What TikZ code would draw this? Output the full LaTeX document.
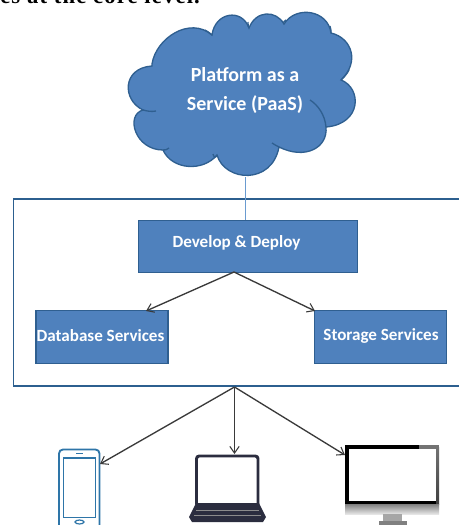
\documentclass[tikz,border=0pt]{standalone}
\usepackage{fontspec}
\setmainfont{Carlito}
\newfontfamily\serifcut[LetterSpace=5]{Liberation Serif}
\usetikzlibrary{arrows.meta}
\definecolor{blu}{HTML}{4F81BD}
\definecolor{edge}{HTML}{2F5F90}
\definecolor{frameblu}{HTML}{2C5F8F}
\definecolor{linkblu}{HTML}{6A9BD0}
\definecolor{arrowk}{HTML}{3A3A3A}
\definecolor{phoneblu}{HTML}{2E75A8}
\definecolor{lapdark}{HTML}{2B2D3F}
\tikzset{
 box/.style={draw=edge,fill=blu,line width=1pt,minimum height=39.4pt,inner sep=0pt},
 lbl/.style={text=white,font=\bfseries\fontsize{12.8}{15}\selectfont,inner sep=0pt},
 cloudlbl/.style={text=white,font=\bfseries\fontsize{15}{18}\selectfont,inner sep=0pt},
 flow/.style={draw=arrowk,line width=1pt,-{Straight Barb[length=5pt,width=7pt,line width=0.8pt]}},
 crease/.style={draw=edge,line width=1pt},
}
\begin{document}
\begin{tikzpicture}[x=0.75pt,y=-0.75pt]
\useasboundingbox (0,0) rectangle (459,525);
\begin{scope}
\clip (0,0) rectangle (459,525);
\node[anchor=base west,inner sep=0pt,font=\serifcut\bfseries\fontsize{17}{20}\selectfont] (cut) at (0,3) {es at the core level.};
\end{scope}
% cloud
\draw[draw=edge,fill=blu,line width=1pt]
 (152,64) .. controls (156,38) and (190,16) .. (212,35)
 .. controls (215,12) and (242,8) .. (249,28)
 .. controls (256,10) and (276,10) .. (284,24)
 .. controls (296,5) and (328,10) .. (331,33)
 .. controls (352,38) and (360,62) .. (341,80)
 .. controls (362,88) and (362,124) .. (326,127)
 .. controls (328,148) and (305,160) .. (279,147)
 .. controls (272,185) and (225,182) .. (217,155)
 .. controls (203,172) and (172,170) .. (163,150)
 .. controls (135,150) and (125,115) .. (143,110)
 .. controls (122,100) and (122,68) .. (152,66)
 -- cycle;
\draw[crease] (212,35) .. controls (210,33) and (208,32) .. (205,30);
\draw[crease] (249,28) .. controls (248,26) and (248,25) .. (248,22);
\draw[crease] (284,24) .. controls (283,23) and (283,22) .. (286,20);
\draw[crease] (331,33) .. controls (331,31) and (331,29) .. (330,26);
\draw[crease] (341,80) .. controls (344,77) and (347,74) .. (349,70);
\draw[crease] (310,100) .. controls (318,105) and (325,115) .. (326,127);
\draw[crease] (279,147) .. controls (277,146) and (275,145) .. (272,143);
\draw[crease] (217,155) .. controls (215,159) and (214,157) .. (213,154);
\draw[crease] (163,150) .. controls (165,150) and (167,150) .. (169,148);
\draw[crease] (143,110) .. controls (147,111) and (151,112) .. (156,111);
\node[cloudlbl] (cloudA) at (245,75) {Platform as a};
\node[cloudlbl] (cloudB) at (245,105) {Service (PaaS)};
\coordinate (cloudfoot) at (245.5,177);
% frame
\draw[frameblu,line width=1.2pt] (462,199) -- (13.5,199) -- (13.5,386) -- (462,386);
\node[box,minimum width=164.25pt] (dev) at (248,246.5) {};
\node[lbl] (devt) at (236.5,243) {Develop \& Deploy};
\draw[linkblu,line width=0.9pt] (cloudfoot) -- (dev.north -| cloudfoot);
\node[box,minimum width=99pt] (db) at (102,337) {};
\node[lbl] (dbt) at (100.5,336) {Database Services};
\node[box,minimum width=99pt] (st) at (380.5,337) {};
\node[lbl] (stt) at (381,336) {Storage Services};
\coordinate (devfoot) at (234,272);
\draw[flow] (devfoot) -- (146,311);
\draw[flow] (devfoot) -- (315,311);
\coordinate (framefoot) at (234.5,387);
% phone
\coordinate (ph) at (100,464);
\draw[phoneblu,line width=1.4pt,rounded corners=3pt] (59,449.5) rectangle (99.5,530);
\draw[phoneblu,line width=1pt] (63.5,458) rectangle (95.5,517.5);
\draw[phoneblu,line width=0.9pt] (76,453.5) -- (83,453.5);
\draw[phoneblu,line width=0.9pt] (79.5,522) ellipse (4.5 and 2);
% laptop
\coordinate (lp) at (234.5,454);
\draw[fill=white,draw=lapdark,line width=2.2pt,rounded corners=2pt] (196.5,456) rectangle (258,506);
\fill[lapdark] (196,503) -- (259,503) -- (266,517) -- (263,522) -- (192,522) -- (189,517) -- cycle;
\draw[black!45,line width=0.5pt] (196,510) -- (259,510);
\draw[black!45,line width=0.5pt] (194,515) -- (261,515);
% monitor
\coordinate (mn) at (345,455);
\fill[black] (345,445) rectangle (436,504);
\fill[black!55] (419,445) rectangle (439,449);
\shade[top color=black!55,bottom color=black!75] (436,447) rectangle (439,504);
\fill[white] (348.5,449) rectangle (436,501);
\shade[top color=black!50,bottom color=black!10] (345,504) rectangle (439,514);
\fill[black!35] (383,514) rectangle (402,521);
\fill[black!50] (379,521) rectangle (407,525);
% arrows to devices
\draw[flow] (framefoot) -- (ph);
\draw[flow] (framefoot) -- (lp);
\draw[flow] (framefoot) -- (mn);
\end{tikzpicture}
\end{document}
